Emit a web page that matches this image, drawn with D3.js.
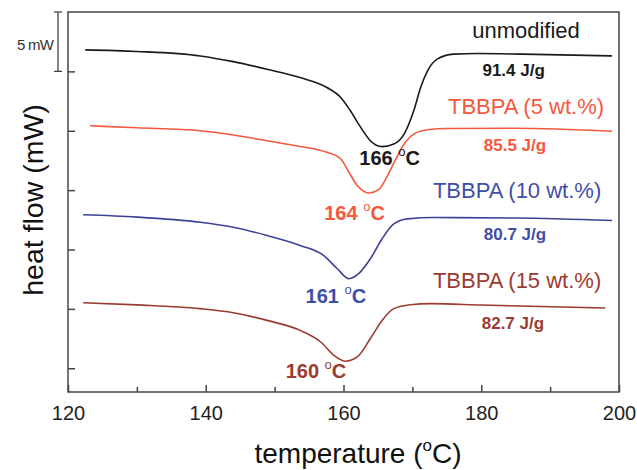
<!DOCTYPE html>
<html>
<head>
<meta charset="utf-8">
<script src="https://cdn.jsdelivr.net/npm/d3@7"></script>
<style>
  html, body { margin: 0; padding: 0; background: #fff; }
  svg { display: block; font-family: "Liberation Sans", Arial, sans-serif; }
</style>
</head>
<body>
<svg id="chart" width="637" height="470"></svg>
<script>
// ---- data (temperature °C, heat flow mW, curves offset vertically as in the figure) ----
const xTicks = [120, 140, 160, 180, 200];
const xMinorTicks = [130, 150, 170, 190];
const yTicks = [0, 5, 10, 15, 20, 25];

const unmodified = [
  [122.5, 26.81], [130, 26.68], [139.2, 26.30], [144.0, 25.82], [148.9, 25.18], [153.7, 24.48],
  [157.6, 23.64], [159.6, 22.80], [161.0, 21.68], [162.5, 20.28], [163.9, 19.16], [165.6, 18.66],
  [167.3, 18.88], [168.8, 19.72], [170.2, 21.68], [171.2, 23.64], [172.2, 25.04], [173.6, 26.03],
  [176.0, 26.45], [179.4, 26.50], [186, 26.45], [199, 26.30]
];
const tbbpa5 = [
  [123.2, 20.42], [130, 20.25], [139.2, 20.00], [144.0, 19.64], [148.9, 19.16], [153.7, 18.68],
  [157.6, 18.18], [159.6, 17.62], [160.8, 16.50], [162.0, 15.38], [163.7, 14.76], [165.1, 15.04],
  [166.4, 16.22], [167.6, 17.62], [168.8, 18.88], [170.2, 19.72], [172.2, 20.08], [175.1, 20.19],
  [185, 20.21], [199, 19.96]
];
const tbbpa10 = [
  [122.2, 12.92], [130, 12.73], [139.2, 12.29], [144.0, 11.87], [148.9, 11.18], [153.7, 10.34],
  [157.1, 9.50], [159.1, 8.38], [160.8, 7.54], [162.2, 7.96], [163.9, 9.22], [165.6, 10.90],
  [167.3, 12.16], [169.3, 12.58], [173.1, 12.69], [185, 12.65], [199, 12.44]
];
const tbbpa15 = [
  [122.2, 5.52], [130, 5.34], [139.2, 5.02], [144.0, 4.68], [148.9, 4.03], [153.7, 3.19],
  [156.7, 2.21], [158.6, 1.09], [160.3, 0.59], [162.0, 0.95], [163.9, 2.50], [165.6, 4.03],
  [167.3, 5.02], [169.7, 5.35], [172.7, 5.44], [180, 5.32], [198, 5.07]
];

const seriesNames = ["unmodified", "TBBPA (5 wt.%)", "TBBPA (10 wt.%)", "TBBPA (15 wt.%)"];
const seriesData = [unmodified, tbbpa5, tbbpa10, tbbpa15];
const enthalpyLabels = ["91.4 J/g", "85.5 J/g", "80.7 J/g", "82.7 J/g"];
const peakLabels = ["166", "164", "161", "160"];

// label anchor positions in data units [temperature, heat flow]
const nameAnchors = [[186.5, 27.8], [186.5, 21.4], [185.2, 14.3], [185.2, 6.8]];
const enthalpyAnchors = [[184.7, 24.6], [184.9, 18.3], [184.9, 10.8], [184.6, 3.3]];
const peakAnchors = [[162.3, 17.1], [157.2, 12.5], [154.5, 5.5], [151.6, -0.84]];

// ---- styles ----
const lineColors = ["#1a1a1a", "#f5583c", "#3d4296", "#9c3b2f"];
const textColors = ["#1a1a1a", "#f5583c", "#3f4fa8", "#9c3b2f"];
const axisColor = "#444";

const svg = d3.select("#chart");
const margin = { left: 68, top: 12, right: 18, bottom: 78 };
const W = 637, H = 470;
const x = d3.scaleLinear().domain([120, 200]).range([margin.left, W - margin.right]);
const y = d3.scaleLinear().domain([-2, 30]).range([H - margin.bottom, margin.top]);

// frame
svg.append("rect")
  .attr("x", x(120)).attr("y", y(30))
  .attr("width", x(200) - x(120)).attr("height", y(-2) - y(30))
  .attr("fill", "none").attr("stroke", axisColor).attr("stroke-width", 1.5);

// bottom axis (ticks inward)
const xAxis = d3.axisBottom(x).tickValues(xTicks).tickSize(-7).tickPadding(14)
  .tickFormat(d3.format("d"));
const gx = svg.append("g").attr("transform", `translate(0,${y(-2)})`).call(xAxis);
gx.select(".domain").remove();
gx.selectAll(".tick line").attr("stroke", axisColor).attr("stroke-width", 1.5);
gx.selectAll(".tick text").attr("font-size", 20).attr("fill", "#222")
  .attr("font-family", "Liberation Sans, Arial, sans-serif");

const xMinor = d3.axisBottom(x).tickValues(xMinorTicks).tickSize(-5).tickFormat("");
const gxm = svg.append("g").attr("transform", `translate(0,${y(-2)})`).call(xMinor);
gxm.select(".domain").remove();
gxm.selectAll(".tick line").attr("stroke", axisColor).attr("stroke-width", 1.5);

// left axis (ticks inward, no labels)
const yAxis = d3.axisLeft(y).tickValues(yTicks).tickSize(-7).tickFormat("");
const gy = svg.append("g").attr("transform", `translate(${x(120)},0)`).call(yAxis);
gy.select(".domain").remove();
gy.selectAll(".tick line").attr("stroke", axisColor).attr("stroke-width", 1.5);

// 5 mW scale bar
const sbX = x(120) - 10;
svg.append("line").attr("x1", sbX).attr("x2", sbX).attr("y1", y(30)).attr("y2", y(25))
  .attr("stroke", axisColor).attr("stroke-width", 1.3);
[30, 25].forEach(v => {
  svg.append("line").attr("x1", sbX - 4).attr("x2", sbX + 4).attr("y1", y(v)).attr("y2", y(v))
    .attr("stroke", axisColor).attr("stroke-width", 1.3);
});
svg.append("text").attr("x", sbX - 5).attr("y", y(26.8)).attr("text-anchor", "end")
  .attr("font-size", 15).attr("letter-spacing", -0.8).attr("fill", "#333").text("5 mW");

// curves
const line = d3.line().x(d => x(d[0])).y(d => y(d[1])).curve(d3.curveMonotoneX);
seriesData.forEach((s, i) => {
  svg.append("path").datum(s).attr("d", line)
    .attr("fill", "none").attr("stroke", lineColors[i]).attr("stroke-width", 1.6);
});

// series names
seriesNames.forEach((n, i) => {
  svg.append("text").attr("x", x(nameAnchors[i][0])).attr("y", y(nameAnchors[i][1]))
    .attr("text-anchor", "middle").attr("font-size", 22).attr("fill", textColors[i]).text(n);
});
// enthalpies
enthalpyLabels.forEach((n, i) => {
  svg.append("text").attr("x", x(enthalpyAnchors[i][0])).attr("y", y(enthalpyAnchors[i][1]))
    .attr("text-anchor", "middle").attr("font-size", 17).attr("font-weight", "bold")
    .attr("fill", textColors[i]).text(n);
});
// peak temperatures
peakLabels.forEach((n, i) => {
  const t = svg.append("text").attr("x", x(peakAnchors[i][0])).attr("y", y(peakAnchors[i][1]))
    .attr("font-size", 20).attr("font-weight", "bold").attr("fill", textColors[i]);
  t.append("tspan").text(n + " ");
  t.append("tspan").attr("font-size", 13).attr("font-weight", "normal").attr("dy", -9).text("o");
  t.append("tspan").attr("dy", 9).text("C");
});

// axis titles
const xt = svg.append("text").attr("x", 358).attr("y", 463).attr("text-anchor", "middle")
  .attr("font-size", 28).attr("fill", "#111");
xt.append("tspan").text("temperature (");
xt.append("tspan").attr("font-size", 17).attr("dy", -12).text("o");
xt.append("tspan").attr("dy", 12).text("C)");

svg.append("text").attr("transform", "translate(43,200) rotate(-90)")
  .attr("text-anchor", "middle").attr("font-size", 28.5).attr("fill", "#111")
  .text("heat flow (mW)");
</script>
</body>
</html>
